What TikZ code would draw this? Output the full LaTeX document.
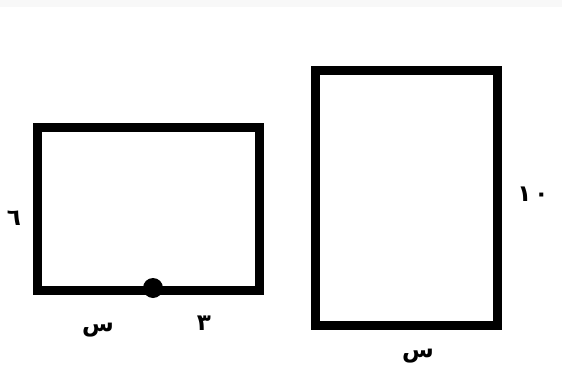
\documentclass[tikz,border=0pt]{standalone}
\usepackage{fontspec}
\newfontfamily\arabicfont[Script=Arabic]{DejaVu Sans}
\TeXXeTstate=1
\definecolor{band_gray}{HTML}{F8F8F8}

\begin{document}
\begin{tikzpicture}[x=1pt,y=-1pt,
    side_line/.style ={draw=black, line width=9pt, line join=miter},
    mid_dot/.style ={circle, fill=black, minimum size=20pt, inner sep=0pt},
    side_label/.style ={inner sep=0pt,
      font=\arabicfont\bfseries\fontsize{23}{27}\selectfont}]
    % page with the grey strip on top
    \fill[white] (0,0) rectangle (562,369);
    \fill[band_gray] (0,0) rectangle (562,7.5);
    % left rectangle and the point on its base
    \draw[side_line] (37.5,127) rectangle (259.5,290);
    \node[mid_dot] (base_pt) at (153,288) {};
    \node[side_label] (left_h) at (14,218) {\beginR ٦\endR};
    \node[side_label] (left_x) at (98,330) {\beginR س\endR};
    \node[side_label] (left_3) at (204,323) {\beginR ٣\endR};
    % right rectangle
    \draw[side_line] (315.5,70.5) rectangle (497,325);
    \node[side_label] (right_h) at (533,194) {١\hspace{3pt}٠};
    \node[side_label] (right_x) at (418,356) {\beginR س\endR};
\end{tikzpicture}
\end{document}
